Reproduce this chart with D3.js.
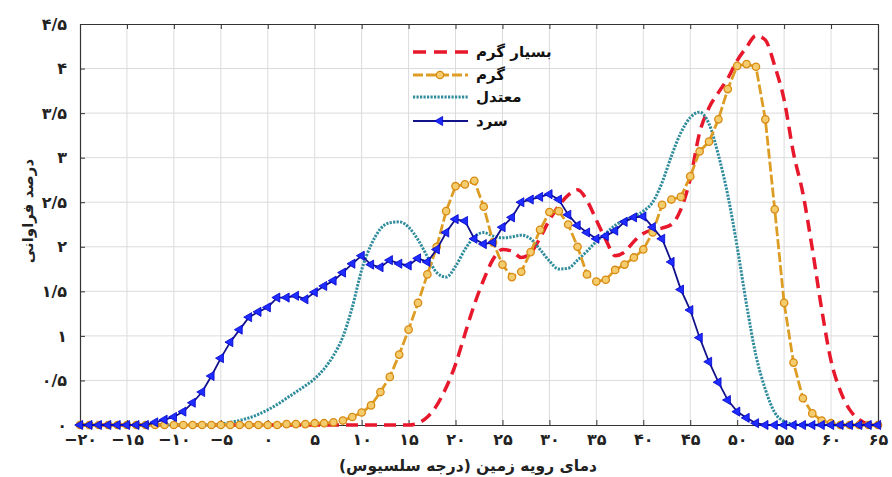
<!DOCTYPE html>
<html><head><meta charset="utf-8">
<script src="https://cdn.jsdelivr.net/npm/d3@7"></script>
<style>body{margin:0;background:#fff}svg{display:block}</style>
</head><body>
<svg id="c" width="892" height="477"></svg>
<script>
const temps = [-20,-19,-18,-17,-16,-15,-14,-13,-12,-11,-10,-9,-8,-7,-6,-5,-4,-3,-2,-1,0,1,2,3,4,5,6,7,8,9,10,11,12,13,14,15,16,17,18,19,20,21,22,23,24,25,26,27,28,29,30,31,32,33,34,35,36,37,38,39,40,41,42,43,44,45,46,47,48,49,50,51,52,53,54,55,56,57,58,59,60,61,62,63,64,65];
const veryHot = [0,0,0,0,0,0,0,0,0,0,0,0,0,0,0,0,0,0,0,0,0,0,0,0,0,0,0,0,0,0,0,0,0,0,0,0,
  0.02,0.09,0.22,0.42,0.68,1.02,1.35,1.63,1.86,1.97,1.95,1.88,1.93,2.10,2.30,2.46,2.58,2.64,2.52,2.30,2.08,1.90,1.94,2.06,2.15,2.19,2.21,2.25,2.42,2.76,3.28,3.56,3.73,3.89,4.09,4.24,4.37,4.32,4.03,3.65,3.05,2.60,1.98,1.30,0.72,0.38,0.17,0.06,0.01,0];
const warm = [0,0,0,0,0,0,0,0,0,0,0,0,0,0,0,0,0,0,0,0,
  0,0,0.01,0.01,0.01,0.02,0.02,0.03,0.05,0.09,0.14,0.22,0.37,0.54,0.79,1.07,1.37,1.69,2.00,2.40,2.68,2.70,2.74,2.45,2.05,1.80,1.66,1.72,1.94,2.19,2.39,2.40,2.25,2.00,1.69,1.61,1.63,1.74,1.80,1.88,1.97,2.16,2.47,2.53,2.56,2.79,3.07,3.18,3.43,3.77,4.03,4.05,4.02,3.43,2.42,1.37,0.70,0.30,0.13,0.05,0.02,0,0,0,0,0];
const moderate = [0,0,0,0,0,0,0,0,0,0,0,0,0,0,0,
  0.01,0.03,0.05,0.08,0.12,0.17,0.23,0.30,0.37,0.44,0.52,0.63,0.78,0.99,1.32,1.74,2.02,2.20,2.27,2.28,2.22,2.08,1.89,1.71,1.66,1.78,1.97,2.11,2.16,2.12,2.10,2.11,2.13,2.09,1.97,1.84,1.75,1.76,1.85,1.95,2.06,2.15,2.24,2.30,2.34,2.40,2.50,2.72,3.02,3.28,3.45,3.51,3.38,3.03,2.58,2.00,1.35,0.78,0.40,0.14,0.04,0.01,
  0,0,0,0,0,0,0,0,0];
const cold = [0,0,0,0,0,0,0,0,
  0.03,0.06,0.09,0.15,0.25,0.37,0.55,0.75,0.93,1.07,1.21,1.27,1.32,1.43,1.43,1.45,1.41,1.49,1.56,1.62,1.71,1.81,1.90,1.80,1.77,1.85,1.81,1.79,1.87,1.83,1.97,2.16,2.31,2.29,2.09,2.03,2.05,2.22,2.33,2.50,2.53,2.56,2.59,2.53,2.36,2.24,2.16,2.09,2.12,2.18,2.28,2.33,2.34,2.22,2.09,1.83,1.52,1.29,0.98,0.71,0.48,0.28,0.15,0.08,0.02,
  0,0,0,0,0,0,0,0,0,0,0,0,0];
const seriesNames = ["بسیار گرم","گرم","معتدل","سرد"];
const xTicks = [-20,-15,-10,-5,0,5,10,15,20,25,30,35,40,45,50,55,60,65];
const yTicks = [0,0.5,1,1.5,2,2.5,3,3.5,4,4.5];
const xTickLabels = ["−۲۰","−۱۵","−۱۰","−۵","۰","۵","۱۰","۱۵","۲۰","۲۵","۳۰","۳۵","۴۰","۴۵","۵۰","۵۵","۶۰","۶۵"];
const yTickLabels = ["۰","۰/۵","۱","۱/۵","۲","۲/۵","۳","۳/۵","۴","۴/۵"];
const xTitle = "دمای رویه زمین (درجه سلسیوس)";
const yTitle = "درصد فراوانی";

const svg = d3.select("#c");
const L = 80, R = 878, T = 24, B = 425;
const x = d3.scaleLinear().domain([-20,65]).range([L,R]);
const y = d3.scaleLinear().domain([0,4.5]).range([B,T]);
const font = "'DejaVu Sans', sans-serif";

// grid
const g = svg.append("g");
g.selectAll(".vg").data(xTicks.slice(1,-1)).join("line")
  .attr("x1",d=>x(d)).attr("x2",d=>x(d)).attr("y1",T).attr("y2",B)
  .attr("stroke","#dcdcdc").attr("stroke-width",1);
g.selectAll(".hg").data(yTicks.slice(1,-1)).join("line")
  .attr("x1",L).attr("x2",R).attr("y1",d=>y(d)).attr("y2",d=>y(d))
  .attr("stroke","#dcdcdc").attr("stroke-width",1);

// axes with inward ticks
const axB = svg.append("g").attr("transform",`translate(0,${B})`)
  .call(d3.axisBottom(x).tickValues(xTicks).tickSizeInner(-5).tickSizeOuter(0).tickFormat((d,i)=>xTickLabels[i]));
const axT = svg.append("g").attr("transform",`translate(0,${T})`)
  .call(d3.axisTop(x).tickValues(xTicks).tickSizeInner(-5).tickSizeOuter(0).tickFormat(""));
const axL = svg.append("g").attr("transform",`translate(${L},0)`)
  .call(d3.axisLeft(y).tickValues(yTicks).tickSizeInner(-5).tickSizeOuter(0).tickFormat((d,i)=>yTickLabels[i]));
const axR = svg.append("g").attr("transform",`translate(${R},0)`)
  .call(d3.axisRight(y).tickValues(yTicks).tickSizeInner(-5).tickSizeOuter(0).tickFormat(""));
[axB,axT,axL,axR].forEach(a=>{
  a.select(".domain").attr("stroke","#333").attr("stroke-width",1.2);
  a.selectAll(".tick line").attr("stroke","#333");
  a.selectAll("text").attr("font-family",font).attr("font-weight","bold").attr("font-size",16).attr("fill","#222");
});
axB.selectAll("text").attr("dy","0.35em").attr("y",14);
axL.selectAll("text").attr("x",-13);

// series
const idx = d3.range(temps.length);
function lineGen(vals, curve){
  return d3.line().x(i=>x(temps[i])).y(i=>y(vals[i])).curve(curve)(idx);
}
const plot = svg.append("g");
plot.append("path").attr("d",lineGen(veryHot,d3.curveMonotoneX)).attr("fill","none")
  .attr("stroke","#e8182c").attr("stroke-width",3.5).attr("stroke-dasharray","12,7");
plot.append("path").attr("d",lineGen(moderate,d3.curveMonotoneX)).attr("fill","none")
  .attr("stroke","#2f8c9c").attr("stroke-width",3).attr("stroke-dasharray","2.2,1.3");
plot.append("path").attr("d",lineGen(warm,d3.curveLinear)).attr("fill","none")
  .attr("stroke","#dd9d24").attr("stroke-width",2.8).attr("stroke-dasharray","10,3");
plot.selectAll(".oc").data(idx).join("circle")
  .attr("cx",i=>x(temps[i])).attr("cy",i=>y(warm[i])).attr("r",3.7)
  .attr("fill","#f3cc6e").attr("stroke","#d98a12").attr("stroke-width",1.3);
plot.append("path").attr("d",lineGen(cold,d3.curveLinear)).attr("fill","none")
  .attr("stroke","#12128c").attr("stroke-width",1.8);
const tri = d3.symbol().type(d3.symbolTriangle).size(36);
plot.selectAll(".bt").data(idx).join("path")
  .attr("d",tri).attr("transform",i=>`translate(${x(temps[i])},${y(cold[i])}) rotate(-90)`)
  .attr("fill","#1e2cff").attr("stroke","#0000c8").attr("stroke-width",0.8);

// legend
const lg = svg.append("g");
const ly = [52,75,97,121];
const lx0 = 413, lx1 = 468, lxm = 440;
lg.append("line").attr("x1",lx0).attr("x2",lx1).attr("y1",ly[0]).attr("y2",ly[0])
  .attr("stroke","#e8182c").attr("stroke-width",3.5).attr("stroke-dasharray","13,8");
lg.append("line").attr("x1",lx0).attr("x2",lx1).attr("y1",ly[1]).attr("y2",ly[1])
  .attr("stroke","#dd9d24").attr("stroke-width",2.8).attr("stroke-dasharray","10,3");
lg.append("circle").attr("cx",lxm).attr("cy",ly[1]).attr("r",3.7)
  .attr("fill","#f3cc6e").attr("stroke","#d98a12").attr("stroke-width",1.3);
lg.append("line").attr("x1",lx0).attr("x2",lx1).attr("y1",ly[2]).attr("y2",ly[2])
  .attr("stroke","#2f8c9c").attr("stroke-width",3).attr("stroke-dasharray","2.2,1.3");
lg.append("line").attr("x1",lx0).attr("x2",lx1).attr("y1",ly[3]).attr("y2",ly[3])
  .attr("stroke","#12128c").attr("stroke-width",1.8);
lg.append("path").attr("d",tri).attr("transform",`translate(${lxm},${ly[3]}) rotate(-90)`)
  .attr("fill","#1e2cff").attr("stroke","#0000c8").attr("stroke-width",0.8);
lg.selectAll("text").data(seriesNames).join("text")
  .attr("x",476).attr("y",(d,i)=>ly[i]).attr("dy","0.35em")
  .attr("font-family",font).attr("font-weight","bold").attr("font-size",15).attr("fill","#111")
  .text(d=>d);

// titles
svg.append("text").attr("x",468).attr("y",466).attr("text-anchor","middle").attr("direction","rtl")
  .style("direction","rtl").attr("unicode-bidi","embed")
  .attr("font-family",font).attr("font-weight","bold").attr("font-size",15.5).attr("fill","#222")
  .attr("dy","0.35em").text(xTitle);
svg.append("text").attr("transform","translate(28,211) rotate(-90)").attr("text-anchor","middle")
  .attr("font-family",font).attr("font-weight","bold").attr("font-size",15).attr("fill","#222")
  .attr("dy","0.35em").text(yTitle);
</script>
</body></html>
